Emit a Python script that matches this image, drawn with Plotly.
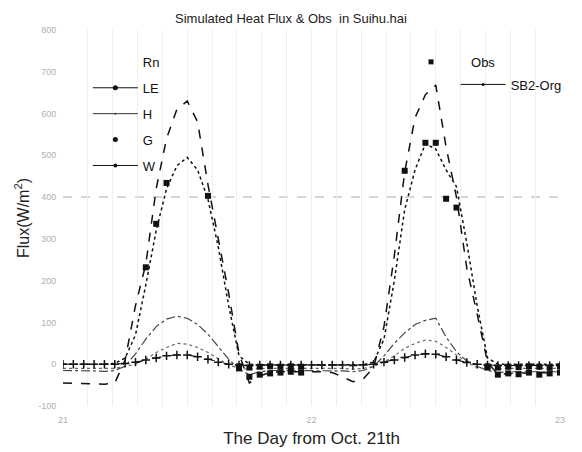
import plotly.graph_objects as go

# ---- data (hourly, from 21 Oct 00:00) ----
hours = list(range(49))
day = [21 + h / 24 for h in hours]

rn_sim = [-45, -46, -47, -47, -48, -45, 10, 140, 240, 420, 540, 610, 630, 580, 430, 300, 170, 25,
          -45, -28, -20, -18, -18, -17, -17, -18, -20, -30, -42, -35, -8, 90, 260, 460, 590, 645,
          668, 520, 400, 230, 120, 5, -25, -22, -20, -22, -20, -21, -20]
le_sim = [0, 0, 0, 0, 0, 2, 15, 70, 190, 320, 420, 475, 495, 465, 395, 280, 140, 20,
          0, -2, -2, -2, -2, -2, -2, -2, -2, -2, -2, -1, 5, 60, 200, 370, 465, 528,
          515, 465, 425, 290, 140, 15, 0, 0, 0, 0, 0, 0, 0]
h_sim = [-15, -15, -16, -16, -17, -15, -5, 25, 60, 90, 108, 115, 110, 95, 72, 42, 12, -12,
         -25, -18, -15, -15, -15, -15, -15, -15, -15, -16, -18, -15, -5, 20, 50, 75, 95, 105,
         110, 65, 30, 8, -5, -15, -20, -18, -18, -18, -18, -18, -18]
g_sim = [-10, -10, -10, -10, -10, -10, -5, 0, 12, 28, 40, 50, 48, 40, 28, 12, -2, -10,
         -12, -10, -10, -10, -10, -10, -10, -10, -10, -10, -12, -10, -5, 5, 20, 38, 50, 58,
         55, 40, 22, 5, -8, -12, -12, -10, -10, -10, -10, -10, -10]
w_sim = [0, 0, 0, 0, 0, 0, 2, 5, 10, 15, 20, 22, 22, 18, 12, 5, 0, -2,
         -3, -2, -2, -2, -2, -2, -2, -2, -2, -2, -3, -2, 0, 5, 10, 16, 22, 25,
         24, 18, 10, 4, 0, -2, -3, -3, -3, -3, -3, -3, -3]

N = None
obs_le = [N, N, N, N, N, N, N, N, 232, 336, 434, N, N, N, 403, N, N, N,
          N, N, N, N, N, N, N, N, N, N, N, N, N, N, N, 463, N, 530,
          530, 396, 375, N, N, N, N, N, N, N, N, N, N]
obs_rn = [N, N, N, N, N, N, N, N, N, N, N, N, N, N, N, N, N, -10,
          -30, -25, -22, -20, -18, -20, N, N, N, N, N, N, N, N, N, N, N, N,
          N, N, N, N, N, -8, -25, -22, -24, -20, -25, -22, -20]
obs_g = [N, N, N, N, N, N, N, N, N, N, N, N, N, N, N, N, N, -5,
         -8, -6, -5, -6, -5, -6, N, N, N, N, N, N, N, N, N, N, N, N,
         N, N, N, N, N, -5, -8, -6, -7, -5, -6, -8, -5]

y_ticks = [-100, 0, 100, 200, 300, 400, 500, 600, 700, 800]
x_ticks = [21, 22, 23]

fig = go.Figure()

# simulated (SB2-Org) lines
fig.add_trace(go.Scatter(x=day, y=rn_sim, mode="lines", line=dict(color="#111", width=1.5, dash="dash"),
                         showlegend=False))
fig.add_trace(go.Scatter(x=day, y=le_sim, mode="lines", line=dict(color="#111", width=1.5, dash="dot"),
                         showlegend=False))
fig.add_trace(go.Scatter(x=day, y=h_sim, mode="lines", line=dict(color="#444", width=1.2, dash="dashdot"),
                         showlegend=False))
fig.add_trace(go.Scatter(x=day, y=g_sim, mode="lines", line=dict(color="#666", width=1.2, dash="dot"),
                         showlegend=False))
fig.add_trace(go.Scatter(x=day, y=w_sim, mode="lines+markers", line=dict(color="#111", width=1.1, dash="dash"),
                         marker=dict(symbol="cross-thin", size=6, line=dict(color="#111", width=1.5)),
                         showlegend=False))
# observations
for arr in (obs_le, obs_rn, obs_g):
    fig.add_trace(go.Scatter(x=day, y=arr, mode="markers",
                             marker=dict(symbol="square", size=6, color="#111"), showlegend=False))

# legend entries (left)
leg_font = dict(family="Arial, Liberation Sans, sans-serif", size=13, color="#111")
fig.add_trace(go.Scatter(x=[None], y=[None], mode="lines", name="Rn", line=dict(color="rgba(0,0,0,0)"),
                         legend="legend", legendgroup="a"))
fig.add_trace(go.Scatter(x=[None], y=[None], mode="lines+markers", name="LE", line=dict(color="#111", width=1),
                         marker=dict(size=5, color="#111"), legend="legend", legendgroup="b"))
fig.add_trace(go.Scatter(x=[None], y=[None], mode="lines+markers", name="H", line=dict(color="#333", width=1),
                         marker=dict(size=2, color="#333"), legend="legend", legendgroup="c"))
fig.add_trace(go.Scatter(x=[None], y=[None], mode="markers", name="G",
                         marker=dict(size=5, color="#111"), legend="legend", legendgroup="d"))
fig.add_trace(go.Scatter(x=[None], y=[None], mode="lines+markers", name="W", line=dict(color="#111", width=1),
                         marker=dict(size=4, color="#111"), legend="legend", legendgroup="e"))
# legend entries (right)
fig.add_trace(go.Scatter(x=[None], y=[None], mode="markers", name="Obs",
                         marker=dict(symbol="square", size=5, color="#111"), legend="legend2"))
fig.add_trace(go.Scatter(x=[None], y=[None], mode="lines+markers", name="SB2-Org",
                         line=dict(color="#111", width=1), marker=dict(size=3, color="#111"), legend="legend3"))

fig.add_shape(type="line", xref="paper", x0=0.0, x1=1, yref="y", y0=400, y1=400,
              line=dict(color="#c8c8c8", width=1.5, dash="dash"), layer="below")

fig.update_layout(
    width=582, height=452,
    margin=dict(l=63, r=22, t=30, b=46),
    paper_bgcolor="white", plot_bgcolor="white",
    font=dict(family="Arial, Liberation Sans, sans-serif"),
    title=dict(text="Simulated Heat Flux & Obs  in Suihu.hai", x=0.5, xanchor="center", y=0.96, yanchor="middle",
               font=dict(size=13, color="#222")),
    legend=dict(x=0.05, y=0.955, xanchor="left", yanchor="top", bgcolor="rgba(0,0,0,0)", font=leg_font,
                itemwidth=45, traceorder="grouped", tracegroupgap=6),
    legend2=dict(x=0.66, y=0.955, xanchor="left", yanchor="top", bgcolor="rgba(0,0,0,0)", font=leg_font,
                 itemwidth=70),
    legend3=dict(x=0.79, y=0.895, xanchor="left", yanchor="top", bgcolor="rgba(0,0,0,0)", font=leg_font,
                 itemwidth=45),
    xaxis=dict(range=[21, 23], tickvals=x_ticks, ticktext=[str(v) for v in x_ticks],
               showgrid=True, gridcolor="#efefef", zeroline=False, showline=False, automargin=False,
               ticks="outside", ticklen=5, tickcolor="rgba(0,0,0,0)",
               minor=dict(dtick=0.1, showgrid=True, gridcolor="#efefef"),
               tickfont=dict(size=9, color="#b0b0b0"),
               title=dict(text="The Day from Oct. 21th", font=dict(size=17, color="#222"), standoff=8)),
    yaxis=dict(range=[-100, 800], tickvals=y_ticks, ticktext=[str(v) for v in y_ticks],
               showgrid=False, zeroline=False, showline=False, automargin=False,
               ticks="outside", ticklen=4, tickcolor="rgba(0,0,0,0)",
               tickfont=dict(size=9, color="#b0b0b0"),
               title=dict(text="Flux(W/m<sup>2</sup>)", font=dict(size=16, color="#222"), standoff=4)),
)

fig.write_html("out.html")
